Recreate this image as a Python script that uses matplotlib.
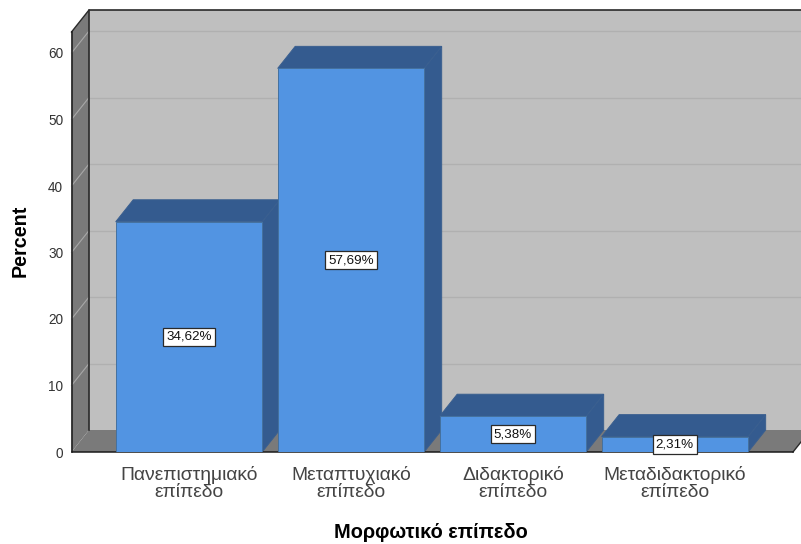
#!/bin/py
# Bar chart of education level with a pseudo 3D box around it

import matplotlib
matplotlib.use('Agg')
import matplotlib.pyplot as plt
from matplotlib import rcParams
from matplotlib.patches import Polygon

rcParams['font.family'] = ['Liberation Sans', 'DejaVu Sans']

categories = ['Πανεπιστημιακό\nεπίπεδο', 'Μεταπτυχιακό\nεπίπεδο', 'Διδακτορικό\nεπίπεδο', 'Μεταδιδακτορικό\nεπίπεδο']
percent = [34.62, 57.69, 5.38, 2.31]
value_labels = ['34,62%', '57,69%', '5,38%', '2,31%']
yticks = [0, 10, 20, 30, 40, 50, 60]

WALL = '#7a7a7a'
BACK = '#bfbfbf'
FRONT = '#5294e2'
SHADE = '#345b8f'
EDGE = '#3a5f8f'

W, H = 801, 544
fig = plt.figure(1, figsize=(W / 100, H / 100), dpi=100)
ax = fig.add_axes([71.5 / W, (H - 452) / H, (793 - 71.5) / W, 420 / H])

# one category is 162 px wide, one percent is 6.65 px high
xlim = (-0.725, 3.729)
ylim = (0, 420 / 6.65)
ax.set_xlim(xlim)
ax.set_ylim(ylim)
dx = 17.5 / 162
dy = 22 / 6.65
barw = 146.5 / 162

ax.patch.set_visible(False)
for s in ['top', 'right']:
    ax.spines[s].set_visible(False)
for s in ['left', 'bottom']:
    ax.spines[s].set_linewidth(1.1)
    ax.spines[s].set_color('#1a1a1a')
    ax.spines[s].set_zorder(2.5)


def face(pts, color, z, edge='none', lw=0.7):
    ax.add_patch(Polygon(pts, closed=True, facecolor=color, edgecolor=edge, linewidth=lw, zorder=z, clip_on=False))


# walls and floor
x0, x1 = xlim
y1 = ylim[1]
face([(x0 + dx, dy), (x1 + dx, dy), (x1 + dx, y1 + dy), (x0 + dx, y1 + dy)], BACK, 0)
face([(x0, 0), (x0 + dx, dy), (x0 + dx, y1 + dy), (x0, y1)], WALL, 0.5)
face([(x0, 0), (x1, 0), (x1 + dx, dy), (x0 + dx, dy)], WALL, 0.5)

# grid on back wall and side wall
for t in yticks[1:]:
    ax.plot([x0 + dx, x1 + dx], [t + dy, t + dy], color='#b0b0b0', lw=1.0, zorder=0.2, clip_on=False)
    ax.plot([x0, x0 + dx], [t, t + dy], color='#a8a8a8', lw=0.8, zorder=0.7, clip_on=False)

# box outline
ax.plot([x0 + dx, x0 + dx, x1 + dx], [dy, y1 + dy, y1 + dy], color='#2a2a2a', lw=1.2, zorder=1, clip_on=False)
ax.plot([x0, x0 + dx], [y1, y1 + dy], color='#2a2a2a', lw=1.0, zorder=1, clip_on=False)
ax.plot([x1, x1 + dx], [0, dy], color='#2a2a2a', lw=1.0, zorder=1, clip_on=False)

# bars, sides first so the front faces sit over them
pos = list(range(len(percent)))
for i, v in zip(pos, percent):
    l = i - barw / 2
    r = i + barw / 2
    face([(r, 0), (r + dx, dy), (r + dx, v + dy), (r, v)], SHADE, 2, EDGE)
    face([(l, v), (r, v), (r + dx, v + dy), (l + dx, v + dy)], SHADE, 2, EDGE)
ax.bar(pos, percent, width=barw, color=FRONT, edgecolor='#44719f', linewidth=0.7, zorder=3)

for i, v, s in zip(pos, percent, value_labels):
    ax.text(i, v / 2, s, ha='center', va='center', fontsize=9.6, color='#111111', zorder=5,
            bbox=dict(boxstyle='square,pad=0.24', facecolor='white', edgecolor='#2a2a2a', linewidth=0.9))

ax.set_yticks(yticks)
ax.tick_params(axis='y', length=0, pad=6, labelsize=9.8, labelcolor='#333333')
ax.set_xticks(pos)
ax.set_xticklabels(categories, fontsize=13.9, color='#444444', linespacing=1.03)
ax.tick_params(axis='x', length=0, pad=10)

fig.text(20 / W, 1 - 241 / H, 'Percent', rotation=90, ha='center', va='center', fontsize=14.2, fontweight='bold')
fig.text(431 / W, 1 - 533 / H, 'Μορφωτικό επίπεδο', ha='center', va='center', fontsize=14.4, fontweight='bold')

plt.savefig('out.png', dpi=100)
plt.close()
